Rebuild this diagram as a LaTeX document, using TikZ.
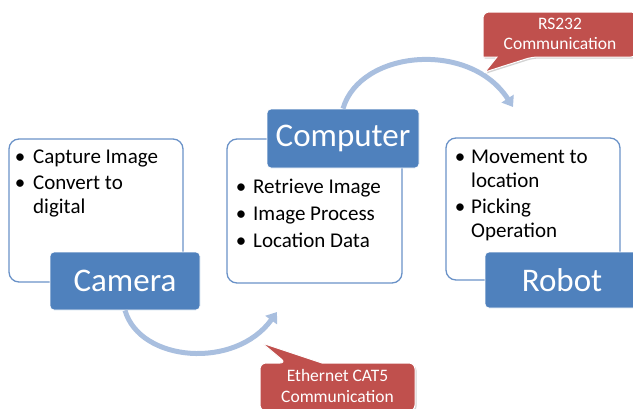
\documentclass[tikz,border=0pt]{standalone}
\usepackage{fontspec}
\setmainfont{Carlito}
\usetikzlibrary{shadows,arrows.meta}
\definecolor{boxblue}{HTML}{4F81BD}
\definecolor{edgeblue}{HTML}{6A92C8}
\definecolor{arcblue}{HTML}{A9BFDF}
\definecolor{callred}{HTML}{C0504D}
\begin{document}
\begin{tikzpicture}[x=1pt,y=-1pt,
  listbox/.style={draw=edgeblue, line width=1.3pt, fill=white, rounded corners=10pt, inner sep=0pt},
  titlebox/.style={fill=boxblue, draw=white, line width=0.8pt, rounded corners=4pt, text=white,
    font=\fontsize{33}{36}\selectfont, inner sep=0pt},
  itemtext/.style={anchor=base west, font=\fontsize{21}{24}\selectfont, inner sep=0pt},
  bul/.style={anchor=base, font=\fontsize{21}{24}\selectfont, inner sep=0pt},
  flow/.style={draw=arcblue, line width=5pt, -{Triangle[width=14pt,length=10pt]}},
  callshape/.style={fill=callred, draw=white, line width=1pt,
    drop shadow={opacity=0.35, shadow xshift=1.5pt, shadow yshift=-1.5pt}},
  calltext/.style={text=white, font=\fontsize{17.5}{20.5}\selectfont, align=center, inner sep=0pt}
]
\useasboundingbox (0,0) rectangle (633,408);

% list boxes
\node[listbox, minimum width=174pt, minimum height=143pt] (camlist) at (96,210.5) {};
\node[listbox, minimum width=175pt, minimum height=144pt] (complist) at (314.5,211) {};
\node[listbox, minimum width=174pt, minimum height=142pt] (roblist) at (533,209) {};

% title boxes
\node[titlebox, minimum width=150pt, minimum height=58pt] (cam) at (125,281) {Camera};
\node[titlebox, minimum width=152pt, minimum height=59pt] (comp) at (343,138.5) {Computer};
\node[titlebox, minimum width=154pt, minimum height=56pt] (rob) at (562,280) {Robot};

% flows
\coordinate (e1) at (277,312);
\coordinate (e2) at (513,107);
\draw[flow] (cam.south) .. controls (140,362) and (235,370) .. (e1);
\draw[flow] (comp.north) .. controls (360,50) and (470,40) .. (e2);

% camera items
\node[bul] (cb1) at (20,163) {\textbullet};
\node[itemtext] (ct1) at (33,163) {Capture Image};
\node[bul] (cb2) at (20,189) {\textbullet};
\node[itemtext] (ct2) at (33,189) {Convert to};
\node[itemtext] (ct3) at (33,213) {digital};

% computer items
\node[bul] (pb1) at (241,193) {\textbullet};
\node[itemtext] (pt1) at (253,193) {Retrieve Image};
\node[bul] (pb2) at (241,220.5) {\textbullet};
\node[itemtext] (pt2) at (253,220.5) {Image Process};
\node[bul] (pb3) at (241,247) {\textbullet};
\node[itemtext] (pt3) at (253,247) {Location Data};

% robot items
\node[bul] (rb1) at (460,163) {\textbullet};
\node[itemtext] (rt1) at (471,163) {Movement to};
\node[itemtext] (rt2) at (471,187) {location};
\node[bul] (rb2) at (460,213) {\textbullet};
\node[itemtext] (rt3) at (471,213) {Picking};
\node[itemtext] (rt4) at (471,237) {Operation};

% callouts
\path[callshape] (483,34) [rounded corners=6pt] -- (483,12) -- (637,12) -- (637,57) -- (532,57)
  [sharp corners] -- (485,72) -- (497,57) -- (483,57) [rounded corners=6pt] -- cycle;
\node[calltext] (rs) at (560,34) {RS232\\Communication};

\path[callshape] (260,386) [rounded corners=6pt] -- (260,363) -- (286,363)
  [sharp corners] -- (262,343) -- (322,363) [rounded corners=6pt] -- (415,363) -- (415,411)
  -- (260,411) -- cycle;
\node[calltext] (eth) at (337.5,386) {Ethernet CAT5\\Communication};
\end{tikzpicture}
\end{document}
